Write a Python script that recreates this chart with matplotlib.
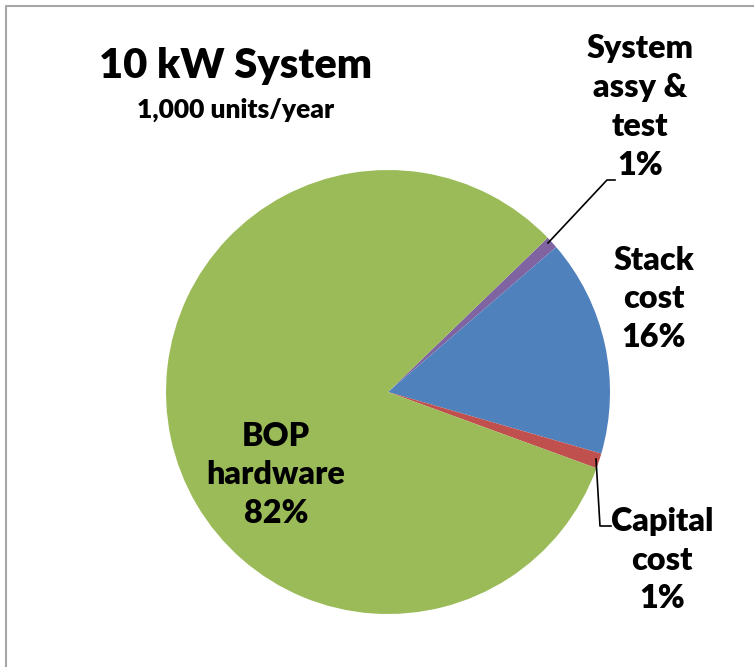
import matplotlib.pyplot as plt
from matplotlib.lines import Line2D

# slice data, clockwise from the "System assy & test" wedge
labels = ['System\nassy &\ntest', 'Stack\ncost', 'Capital\ncost', 'BOP\nhardware']
shares = [0.9, 15.8, 1.1, 82.2]
pct_text = ['1%', '16%', '1%', '82%']
colors = ['#8064A2', '#4F81BD', '#C0504D', '#9BBB59']

title = '10 kW System'
subtitle = '1,000 units/year'

W, H = 754, 667


def fy(y):
    # picture rows -> axes y
    return H - y


fig = plt.figure(figsize=(W / 100, H / 100), dpi=100)
ax = fig.add_axes([0, 0, 1, 1])

ax.pie(shares, colors=colors, startangle=44, counterclock=False,
       center=(388, fy(392)), radius=222,
       wedgeprops={'linewidth': 0})
ax.set_xlim(0, W)
ax.set_ylim(0, H)
ax.set_aspect('equal')
ax.axis('off')

font = dict(family='Lato', weight='heavy', color='black')

# chart border (left and top)
ax.add_line(Line2D([5.5, 5.5, W], [0, fy(6), fy(6)], color='#A6A6A6', lw=1.5))

ax.text(236, fy(66), title, ha='center', va='center', fontsize=30, **font)
ax.text(236, fy(110), subtitle, ha='center', va='center', fontsize=19, **font)

# label positions (picture pixels)
label_xy = [(640, 107), (654, 299), (662, 560), (276, 475)]
for lab, pct, (x, y) in zip(labels, pct_text, label_xy):
    ax.text(x, fy(y), lab + '\n' + pct, ha='center', va='center',
            fontsize=23.2, linespacing=1.41, **font)

# leader lines
ax.add_line(Line2D([548, 607, 615], [fy(243), fy(180), fy(180)], color='black', lw=1.2))
ax.add_line(Line2D([596, 600, 611], [fy(459), fy(526), fy(526)], color='black', lw=1.2))

fig.savefig('out.png', dpi=100)
